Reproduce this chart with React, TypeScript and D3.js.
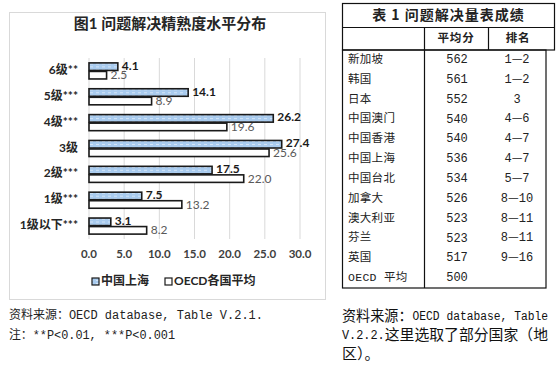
import React from 'react';
import * as d3 from 'd3';

// chart data
const levels = ['6级**', '5级***', '4级***', '3级', '2级***', '1级***', '1级以下***'];
const shanghai = [4.1, 14.1, 26.2, 27.4, 17.5, 7.5, 3.1];
const oecdAvg = [2.5, 8.9, 19.6, 25.6, 22.0, 13.2, 8.2];
const xTicks = [0, 5, 10, 15, 20, 25, 30];
const seriesNames = ['中国上海', 'OECD各国平均'];

// table data
const countries = ['新加坡', '韩国', '日本', '中国澳门', '中国香港', '中国上海', '中国台北', '加拿大', '澳大利亚', '芬兰', '英国', 'OECD 平均'];
const scores = ['562', '561', '552', '540', '540', '536', '534', '526', '523', '523', '517', '500'];
const ranks = ['1—2', '1—2', '3', '4—6', '4—7', '4—7', '5—7', '8—10', '8—11', '8—11', '9—16', ''];

const cjk = "'Noto Sans CJK SC', sans-serif";
const mono = "'Liberation Mono', 'Noto Sans CJK SC', monospace";
const chartFont = "Lato, 'Noto Sans CJK SC', sans-serif";

// rank like "4—7": digits in mono, the dash full width
const Rank = ({ text, x, y }: { text: string; x: number; y: number }) => {
    const parts = text.split('—');
    return (
        <text x={x} y={y} textAnchor="middle" dominantBaseline="middle" fontFamily={mono} fontSize={12}>
            {parts.map((p, i) => (
                <React.Fragment key={i}>
                    {i > 0 && <tspan fontFamily={cjk} fontSize={12}>—</tspan>}
                    <tspan>{p}</tspan>
                </React.Fragment>
            ))}
        </text>
    );
};

const App = () => {
    // Scales for the bar chart
    const x = d3.scaleLinear().domain([0, 30]).range([89, 300]);
    const y = d3.scaleBand<string>()
        .domain(levels)
        .range([58, 239])
        .paddingInner(0.34)
        .paddingOuter(0.17);
    const sub = d3.scaleBand<string>()
        .domain(seriesNames)
        .range([0, y.bandwidth()]);

    // Row scale for the table
    const row = d3.scaleBand<string>().domain(countries).range([50, 288]);

    const barFill = ['url(#dots)', '#fff'];

    return (
        <svg width={560} height={370} style={{ position: 'absolute', left: 0, top: 0, background: '#fff' }}>
            <defs>
                <pattern id="dots" width={6} height={3} patternUnits="userSpaceOnUse">
                    <rect width={6} height={3} fill="#a9cbee" />
                    <rect x={0} y={1} width={3} height={1} fill="#d4e5f7" />
                </pattern>
            </defs>

            {/* chart frame */}
            <rect x={9.5} y={12.5} width={316} height={287} fill="none" stroke="#d9d9d9" />
            <text x={170} y={25} textAnchor="middle" dominantBaseline="middle"
                fontFamily={chartFont} fontWeight="bold" fontSize={15} fill="#262626">
                图1 问题解决精熟度水平分布
            </text>

            {/* grid lines */}
            {xTicks.map(t => (
                <line key={t} x1={x(t)} x2={x(t)} y1={58} y2={239} stroke="#d9d9d9" strokeWidth={1} />
            ))}

            {/* bars */}
            {levels.map((lv, i) => {
                const vals = [shanghai[i], oecdAvg[i]];
                return (
                    <g key={lv} transform={`translate(0,${y(lv)})`}>
                        {seriesNames.map((s, j) => (
                            <rect key={s} x={x(0)} y={sub(s)! + 0.5}
                                width={x(vals[j]) - x(0)} height={sub.bandwidth() - 1}
                                fill={barFill[j]} stroke="#1a1a1a" strokeWidth={1.6} />
                        ))}
                        {seriesNames.map((s, j) => (
                            <text key={s + 'l'} x={x(vals[j]) + 4} y={sub(s)! + sub.bandwidth() / 2 + (j ? 1 : 0)}
                                dominantBaseline="middle" fontFamily={chartFont} fontSize={12}
                                fontWeight={j ? 'normal' : 'bold'} fill={j ? '#595959' : '#1a1a1a'}>
                                {d3.format('.1f')(vals[j])}
                            </text>
                        ))}
                        <text x={78} y={y.bandwidth() / 2} textAnchor="end" dominantBaseline="middle"
                            fontFamily={chartFont} fontWeight="bold" fontSize={12} fill="#262626">
                            {lv}
                        </text>
                    </g>
                );
            })}

            {/* x axis labels */}
            {xTicks.map(t => (
                <text key={t} x={x(t)} y={255} textAnchor="middle" dominantBaseline="middle"
                    fontFamily={chartFont} fontWeight="bold" fontSize={11.5} fill="#404040">
                    {d3.format('.1f')(t)}
                </text>
            ))}

            {/* legend */}
            {seriesNames.map((s, j) => {
                const lx = j ? 165 : 92;
                return (
                    <g key={s}>
                        <rect x={lx} y={278} width={7} height={7} fill={barFill[j]} stroke="#1a1a1a" strokeWidth={1.2} />
                        <text x={lx + 9} y={282} dominantBaseline="middle" fontFamily={chartFont}
                            fontWeight="bold" fontSize={12} fill="#262626">{s}</text>
                    </g>
                );
            })}

            {/* left notes */}
            <text x={9} y={316} dominantBaseline="middle" fontFamily={mono} fontSize={12} fill="#222"
                textLength={254} lengthAdjust="spacingAndGlyphs">
                资料来源：OECD database, Table V.2.1.
            </text>
            <text x={9} y={336} dominantBaseline="middle" fontFamily={mono} fontSize={12} fill="#222"
                textLength={166} lengthAdjust="spacingAndGlyphs">
                注：**P&lt;0.01, ***P&lt;0.001
            </text>

            {/* table */}
            <g fontFamily={cjk} fill="#222">
                <rect x={342.5} y={3.5} width={212} height={46.5} fill="none" stroke="#111" strokeWidth={1.2} />
                <line x1={342} x2={555} y1={27.5} y2={27.5} stroke="#111" strokeWidth={1.2} />
                <line x1={488.5} x2={488.5} y1={27} y2={50} stroke="#111" strokeWidth={1.2} />
                <rect x={342.5} y={50} width={203.5} height={238} fill="none" stroke="#111" strokeWidth={1.2} />
                <line x1={424.5} x2={424.5} y1={27} y2={288} stroke="#111" strokeWidth={1.2} />
                <text x={448.5} y={16.5} textAnchor="middle" dominantBaseline="middle" fontWeight="bold"
                    fontSize={14} letterSpacing={1}>
                    表 1 问题解决量表成绩
                </text>
                <text x={456} y={38.5} textAnchor="middle" dominantBaseline="middle" fontWeight="bold" fontSize={11.5} letterSpacing={0.8}>
                    平均分
                </text>
                <text x={518} y={38.5} textAnchor="middle" dominantBaseline="middle" fontWeight="bold" fontSize={11.5} letterSpacing={0.8}>
                    排名
                </text>
                {countries.map((c, i) => {
                    const cy = row(c)! + row.bandwidth() / 2;
                    return (
                        <g key={c}>
                            <text x={348} y={cy} dominantBaseline="middle" fontSize={11.5}
                                fontFamily={mono} letterSpacing={0.3}>{c}</text>
                            <text x={457} y={cy} textAnchor="middle" dominantBaseline="middle"
                                fontFamily={mono} fontSize={12}>{scores[i]}</text>
                            <Rank text={ranks[i]} x={517} y={cy} />
                        </g>
                    );
                })}
            </g>

            {/* right notes */}
            <g fill="#111" dominantBaseline="middle">
                <text x={342} y={317} textLength={206} lengthAdjust="spacingAndGlyphs">
                    <tspan fontFamily={cjk} fontSize={15}>资料来源：</tspan>
                    <tspan fontFamily={mono} fontSize={12}>OECD database, Table</tspan>
                </text>
                <text x={342} y={336} textLength={206} lengthAdjust="spacingAndGlyphs">
                    <tspan fontFamily={mono} fontSize={12}>V.2.2.</tspan>
                    <tspan fontFamily={cjk} fontSize={15}>这里选取了部分国家（地</tspan>
                </text>
                <text x={342} y={355} fontFamily={cjk} fontSize={15}>区）。</text>
            </g>
        </svg>
    );
};

export default App;
